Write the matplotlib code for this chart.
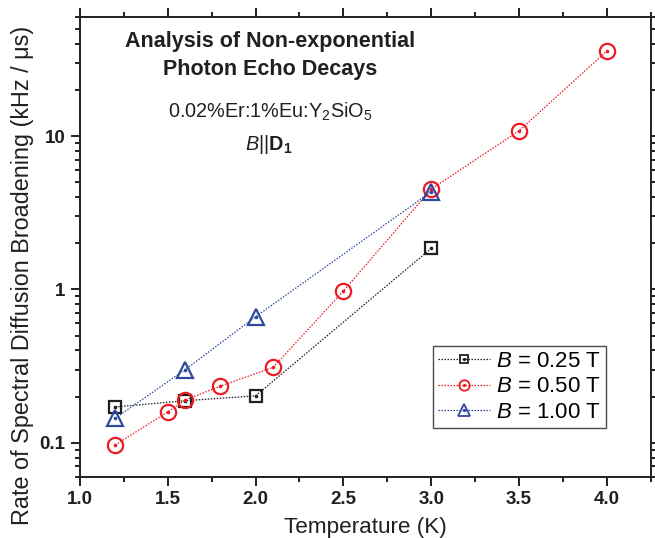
import matplotlib
matplotlib.use("Agg")
import matplotlib.pyplot as plt
from matplotlib.ticker import LogLocator, FixedLocator, MultipleLocator, NullFormatter
from matplotlib.lines import Line2D

plt.rcParams['font.family'] = ['Liberation Sans', 'DejaVu Sans']
plt.rcParams['mathtext.fontset'] = 'custom'
plt.rcParams['mathtext.rm'] = 'Liberation Sans'
plt.rcParams['mathtext.it'] = 'Liberation Sans:italic'
plt.rcParams['mathtext.bf'] = 'Liberation Sans:bold'

# Data
T_025 = [1.2, 1.6, 2.0, 3.0]
R_025 = [0.171, 0.188, 0.202, 1.85]
T_050 = [1.2, 1.5, 1.6, 1.8, 2.1, 2.5, 3.0, 3.5, 4.0]
R_050 = [0.0965, 0.159, 0.19, 0.234, 0.31, 0.975, 4.5, 10.8, 35.8]
T_100 = [1.2, 1.6, 2.0, 3.0]
R_100 = [0.144, 0.30, 0.663, 4.33]
labels = ["$B$ = 0.25 T ", "$B$ = 0.50 T ", "$B$ = 1.00 T "]
xticks = [1.0, 1.5, 2.0, 2.5, 3.0, 3.5, 4.0]

c_blk = '#231f20'
c_red = '#ed1c24'
c_blu = '#2e4a9e'

W, H = 655, 538
fig = plt.figure(figsize=(W / 100, H / 100), dpi=100)
ax = fig.add_axes([0.1221, 0.1139, 0.8713, 0.8551])

series = [
    (T_025, R_025, c_blk, 's', 9, 6),
    (T_050, R_050, c_red, 'o', 11, 7.5),
    (T_100, R_100, c_blu, '^', 12, 8.5),
]
handles = []
for (x, y, c, m, ms, lms), lab in zip(series, labels):
    ax.plot(x, y, linestyle=(0, (1.2, 1.2)), lw=0.9, color=c,
            marker=m, markersize=ms, markerfacecolor='none',
            markeredgecolor=c, markeredgewidth=1.6, zorder=3)
    ax.plot(x, y, linestyle='none', marker='o', markersize=1.6, color=c, zorder=4)
    h1 = Line2D([0], [0], linestyle=(0, (1.2, 1.2)), lw=0.9, color=c,
                marker=m, markersize=lms, markerfacecolor='none',
                markeredgecolor=c, markeredgewidth=1.3)
    h2 = Line2D([0], [0], linestyle='none', marker='o', markersize=1.3, color=c)
    handles.append((h1, h2))

ax.set_yscale('log')
ax.set_xlim(1.0, 4.25)
ax.set_ylim(0.06, 60)
ax.xaxis.set_major_locator(FixedLocator(xticks))
ax.xaxis.set_minor_locator(MultipleLocator(0.25))
ax.set_xticklabels([f"{v:.1f}" for v in xticks])
ax.yaxis.set_major_locator(FixedLocator([0.1, 1, 10]))
ax.set_yticklabels(['0.1', '1', '10'])
ax.yaxis.set_minor_locator(LogLocator(base=10, subs=range(2, 10)))
ax.yaxis.set_minor_formatter(NullFormatter())

for sp in ax.spines.values():
    sp.set_linewidth(1.4)
    sp.set_color(c_blk)
ax.tick_params(which='both', direction='out', top=True, right=True, color=c_blk, width=1.4)
ax.tick_params(which='major', length=6.5, pad=4)
ax.tick_params(which='minor', length=3.3)
for lab in ax.get_xticklabels() + ax.get_yticklabels():
    lab.set_fontweight('bold')
    lab.set_fontsize(13.5)
    lab.set_color(c_blk)

ax.set_xlabel('Temperature (K)', fontsize=16.2, color=c_blk, labelpad=6)
ax.set_ylabel('Rate of Spectral Diffusion Broadening (kHz / μs)', fontsize=16.8, color=c_blk, labelpad=6)
ax.yaxis.set_label_coords(-0.081, 0.437)

def px(x, y):
    return x / W, 1 - y / H

fig.text(*px(270, 47), 'Analysis of Non-exponential', ha='center', va='baseline',
         fontsize=15.5, fontweight='bold', color=c_blk)
fig.text(*px(270, 75), 'Photon Echo Decays', ha='center', va='baseline',
         fontsize=15.5, fontweight='bold', color=c_blk)
fig.text(*px(270.5, 118), '0.02%Er:1%Eu:Y$_2$SiO$_5$', ha='center', va='baseline',
         fontsize=14.3, color=c_blk)
fig.text(*px(269, 150), r'$B$||$\mathbf{D}_\mathbf{1}$', ha='center', va='baseline',
         fontsize=14.3, color=c_blk)

leg = ax.legend(handles, labels, loc='lower right', bbox_to_anchor=(0.9217, 0.1065),
                fontsize=16, frameon=True, fancybox=False, edgecolor=c_blk,
                handlelength=2.35, handletextpad=0.27, borderpad=0.22, labelspacing=0.2,
                borderaxespad=0)
leg.get_frame().set_linewidth(1.0)

fig.savefig('out.png', dpi=100)
